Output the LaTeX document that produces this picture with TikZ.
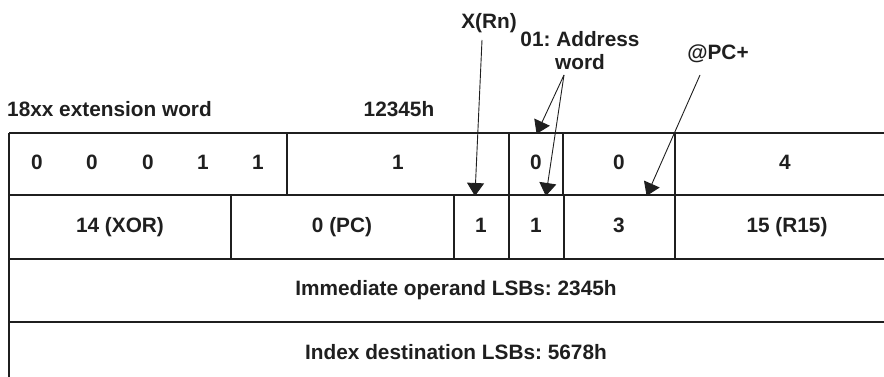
\documentclass[tikz,border=0pt]{standalone}
\usepackage{fontspec}
\setmainfont{Liberation Sans}
\usetikzlibrary{arrows.meta}
\begin{document}
\frenchspacing
\begin{tikzpicture}[x=1pt,y=-1pt,
  every node/.style={font=\fontsize{20.8}{23}\selectfont\bfseries\frenchspacing, inner sep=0pt, text=black!88},
  cell/.style={anchor=base},
  grid/.style={line width=1.7pt, draw=black!88},
  ptr/.style={line width=0.9pt, draw=black!88, -{Triangle[length=13pt,width=17pt]}, shorten >=-1pt}]
\useasboundingbox (0,0) rectangle (884,377);
% table lines
\draw[grid] (9,377) -- (9,133);
\draw[grid] (9,133) -- (884,133);
\draw[grid] (9,195) -- (884,195);
\draw[grid] (9,259) -- (884,259);
\draw[grid] (9,322) -- (884,322);
\foreach \x in {287,509,563,675} \draw[grid] (\x,133) -- (\x,195);
\foreach \x in {231,454,509,564,675} \draw[grid] (\x,195) -- (\x,259);
% row 1
\node[cell] (b15) at (37,170) {0};
\node[cell] (b14) at (92,170) {0};
\node[cell] (b13) at (148,170) {0};
\node[cell] (b12) at (203,170) {1};
\node[cell] (b11) at (258,170) {1};
\node[cell] (c1) at (398,170) {1};
\node[cell] (c2) at (536,170) {0};
\node[cell] (c3) at (619,170) {0};
\node[cell] (c4) at (785,170) {4};
% row 2
\node[cell] (d1) at (120,232) {14 (XOR)};
\node[cell] (d2) at (342,232) {0 (PC)};
\node[cell] (d3) at (481,232) {1};
\node[cell] (d4) at (536,232) {1};
\node[cell] (d5) at (619,232) {3};
\node[cell] (d6) at (787,232) {15 (R15)};
% rows 3,4
\node[cell] (imm) at (456,295) {Immediate operand LSBs: 2345h};
\node[cell] (idx) at (456,359) {Index destination LSBs: 5678h};
% labels
\node[anchor=base west] (ext) at (7,116.5) {18xx extension word};
\node[cell] (hex) at (399,116.5) {12345h};
\node[cell] (xrn) at (489,29) {X(Rn)};
\node[align=center] (addr) at (580,50.5) {01: Address\\word};
\node[cell] (pcp) at (718,60) {@PC+};
% arrow coordinates
\coordinate (xs) at (482,40);
\coordinate (xt) at (475,195);
\coordinate (as) at (564,75);
\coordinate (at1) at (537,133);
\coordinate (at2) at (546,195);
\coordinate (ps) at (700,75);
\coordinate (pt) at (647,195);
\draw[ptr] (xs) -- (xt);
\draw[ptr] (as) -- (at1);
\draw[ptr] (as) -- (at2);
\draw[ptr] (ps) -- (pt);
\end{tikzpicture}
\end{document}
